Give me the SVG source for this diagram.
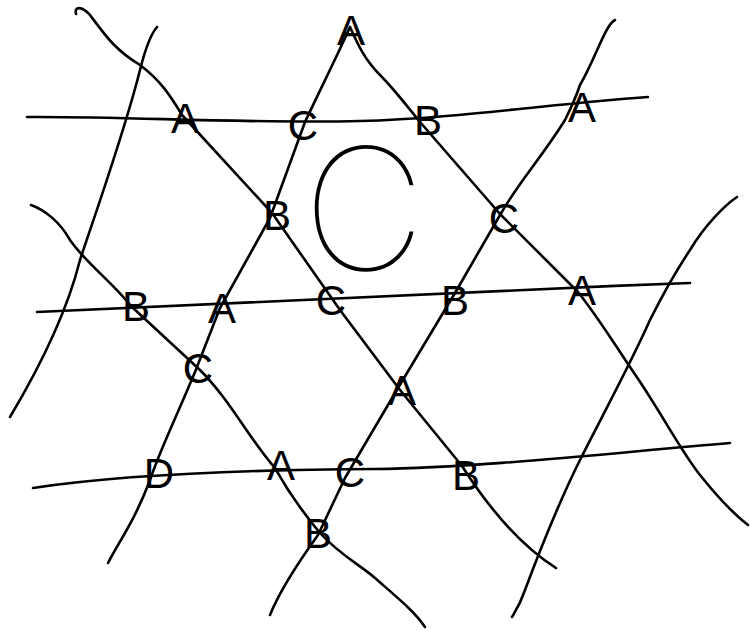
<svg xmlns="http://www.w3.org/2000/svg" width="750" height="630" viewBox="0 0 750 630">
<style>
.ln{fill:none;stroke:#000;stroke-width:2.6;stroke-linecap:round;stroke-linejoin:round}
.lb{font-family:"Liberation Sans",Arial,sans-serif;font-size:42px;fill:#000;text-anchor:middle}
.big{font-family:"Inter","Noto Sans","DejaVu Sans",sans-serif;font-weight:100;font-size:170px;fill:#000;text-anchor:middle}
</style>
<rect width="750" height="630" fill="#fff"/>
<g id="connectors">
<path class="ln" d="M27,117 C120,116 250,124 360,121 C450,119 560,103 648,97"/>
<path class="ln" d="M37,312 C200,304 450,292 690,283"/>
<path class="ln" d="M33,488 C100,478 200,470 375,469 C480,468 620,452 730,443"/>
<path class="ln" d="M76,14 C74,6 82,6 90,15 C105,35 115,50 140,65 C160,80 170,95 182,115 L272,213 L340,310 L400,390 L462,466 C490,510 520,545 556,568"/>
<path class="ln" d="M350,27 C358,45 365,60 380,75 C395,90 410,110 420,122 L500,214 L578,292 C600,320 615,345 632,370 C660,410 680,450 700,475 C720,500 735,515 748,525"/>
<path class="ln" d="M31,205 C45,210 60,222 70,240 C85,262 110,280 132,307 L200,370 C230,400 250,440 275,468 C290,495 305,515 320,533 C340,555 360,565 375,578 C400,600 415,612 425,627"/>
<path class="ln" d="M157,27 C150,35 145,50 140,70 C125,130 100,200 80,260 C70,300 50,350 10,417"/>
<path class="ln" d="M350,27 C340,50 320,90 305,122 L270,218 L220,308 L195,372 C175,420 160,450 150,480 C135,520 120,540 108,563"/>
<path class="ln" d="M615,20 C605,25 595,60 580,85 C575,100 570,110 565,120 C540,160 520,180 500,215 L455,293 L398,388 L345,478 L318,535 C300,560 280,590 270,615"/>
<path class="ln" d="M737,197 C725,205 705,225 690,250 C670,280 660,300 650,320 C630,365 600,420 580,460 C560,500 540,550 525,590 C520,605 515,612 512,617"/>
</g>
<g id="n-top-A"><text class="lb" x="351" y="45">A</text></g>
<g id="n-r1-A1"><text class="lb" x="185" y="133">A</text></g>
<g id="n-r1-C"><text class="lb" x="303" y="140">C</text></g>
<g id="n-r1-B"><text class="lb" x="428" y="135">B</text></g>
<g id="n-r1-A2"><text class="lb" x="582" y="122">A</text></g>
<g id="n-m1-B"><text class="lb" x="277" y="230">B</text></g>
<g id="n-m1-C"><text class="lb" x="504" y="233">C</text></g>
<g id="n-r2-B"><text class="lb" x="136" y="321">B</text></g>
<g id="n-r2-A1"><text class="lb" x="222" y="323">A</text></g>
<g id="n-r2-C"><text class="lb" x="331" y="315">C</text></g>
<g id="n-r2-B2"><text class="lb" x="455" y="315">B</text></g>
<g id="n-r2-A2"><text class="lb" x="582" y="305">A</text></g>
<g id="n-m2-C"><text class="lb" x="198" y="383">C</text></g>
<g id="n-m2-A"><text class="lb" x="402" y="405">A</text></g>
<g id="n-r3-D"><text class="lb" x="159" y="488">D</text></g>
<g id="n-r3-A"><text class="lb" x="281" y="480">A</text></g>
<g id="n-r3-C"><text class="lb" x="350" y="487">C</text></g>
<g id="n-r3-B"><text class="lb" x="466" y="490">B</text></g>
<g id="n-bot-B"><text class="lb" x="318" y="548">B</text></g>
<g id="big-C"><text class="big" x="364" y="270">C</text></g>
</svg>
